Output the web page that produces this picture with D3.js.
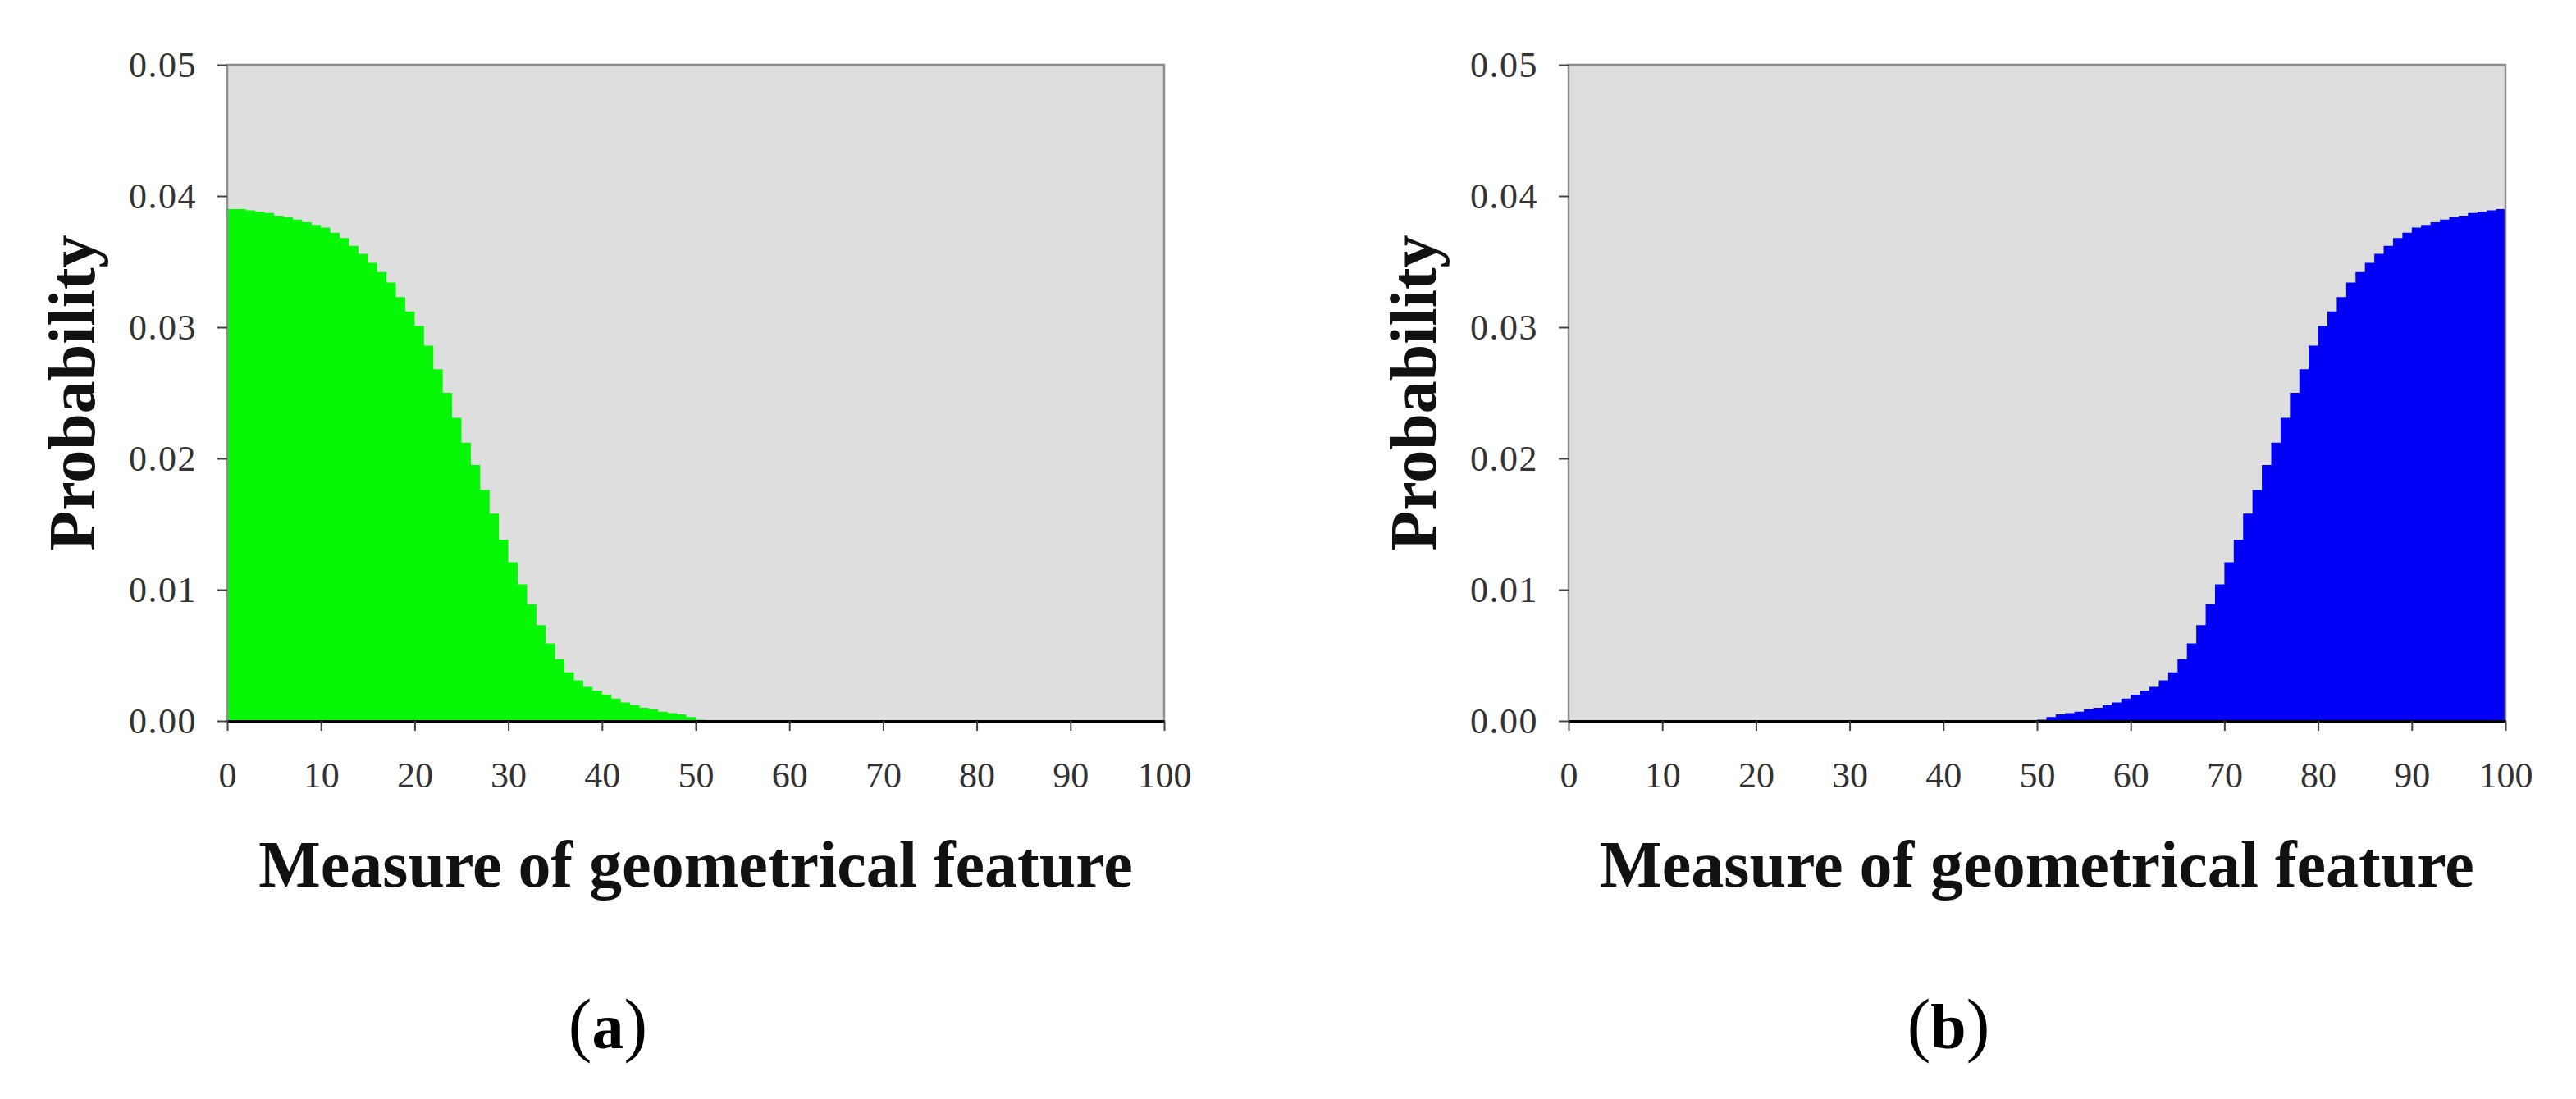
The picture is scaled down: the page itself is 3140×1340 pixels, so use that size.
<!DOCTYPE html>
<html><head><meta charset="utf-8">
<script src="https://cdn.jsdelivr.net/npm/d3@7"></script>
<style>body{margin:0;background:#fff}</style>
</head><body>
<svg id="c" width="3140" height="1340"></svg>
<script>
// ---- data ----
const binStarts = d3.range(0, 100, 1); // 100 bins of width 1 on the measure axis
const greenProb = [
  0.0390,0.0390,0.0389,0.0388,0.0387,0.0385,0.0384,0.0382,0.0380,0.0378,
  0.0376,0.0372,0.0368,0.0362,0.0356,0.0349,0.0342,0.0334,0.0323,0.0312,
  0.0301,0.0286,0.0268,0.0250,0.0231,0.0212,0.0195,0.0176,0.0158,0.0138,
  0.0121,0.0104,0.0089,0.0073,0.0059,0.0047,0.0037,0.0031,0.0026,0.0023,
  0.0020,0.0017,0.0014,0.0012,0.0010,0.0009,0.0007,0.0006,0.0005,0.0003,
  0.0001,0,0,0,0,0,0,0,0,0,
  0,0,0,0,0,0,0,0,0,0,
  0,0,0,0,0,0,0,0,0,0,
  0,0,0,0,0,0,0,0,0,0,
  0,0,0,0,0,0,0,0,0,0
];
const blueProb = [
  0,0,0,0,0,0,0,0,0,0,
  0,0,0,0,0,0,0,0,0,0,
  0,0,0,0,0,0,0,0,0,0,
  0,0,0,0,0,0,0,0,0,0,
  0,0,0,0,0,0,0,0,0,0,
  0.0001,0.0003,0.0005,0.0006,0.0007,0.0009,0.0010,0.0012,0.0014,0.0017,
  0.0020,0.0023,0.0026,0.0031,0.0037,0.0047,0.0059,0.0073,0.0089,0.0104,
  0.0121,0.0138,0.0158,0.0176,0.0195,0.0212,0.0231,0.0250,0.0268,0.0286,
  0.0301,0.0312,0.0323,0.0334,0.0342,0.0349,0.0356,0.0362,0.0368,0.0372,
  0.0376,0.0378,0.0380,0.0382,0.0384,0.0385,0.0387,0.0388,0.0389,0.0390
];
const xTickValues = [0,10,20,30,40,50,60,70,80,90,100];
const yTickValues = [0,0.01,0.02,0.03,0.04,0.05];
const xTitle = "Measure of geometrical feature";
const yTitle = "Probability";
const panelLabels = ["a","b"];

// ---- drawing ----
const svg = d3.select("#c");
svg.append("rect").attr("width",3140).attr("height",1340).attr("fill","#ffffff");

const W = 1142, TOP = 79, BOTTOM = 879;
const panels = [
  {left:277,  values:greenProb, color:"#06f806", label:panelLabels[0], labelX:741},
  {left:1912, values:blueProb,  color:"#0000f6", label:panelLabels[1], labelX:2375}
];
const serif = "'Liberation Serif','Times New Roman',serif";

panels.forEach(p => {
  const g = svg.append("g");
  const x = d3.scaleLinear().domain([0,100]).range([p.left, p.left+W]);
  const y = d3.scaleLinear().domain([0,0.05]).range([BOTTOM, TOP]);

  // plot background
  g.append("rect").attr("x",x(0)).attr("y",y(0.05))
    .attr("width",x(100)-x(0)).attr("height",y(0)-y(0.05)).attr("fill","#dedede");

  // histogram as stepped area
  const pts = binStarts.map((b,i)=>[b,p.values[i]]);
  pts.push([100,p.values[p.values.length-1]]);
  const area = d3.area().x(d=>x(d[0])).y0(y(0)).y1(d=>y(d[1])).curve(d3.curveStepAfter);
  g.append("path").datum(pts).attr("d",area).attr("fill",p.color);

  // gray frame (top, right, left)
  g.append("path")
    .attr("d",`M${x(0)},${y(0)}V${y(0.05)}H${x(100)}V${y(0)}`)
    .attr("fill","none").attr("stroke","#8e8e8e").attr("stroke-width",2.5);

  // y axis
  const ya = g.append("g").attr("transform",`translate(${x(0)},0)`)
    .call(d3.axisLeft(y).tickValues(yTickValues).tickFormat(d3.format(".2f"))
      .tickSize(12).tickSizeOuter(0).tickPadding(25));
  ya.select(".domain").remove();
  ya.selectAll(".tick line").attr("stroke","#444").attr("stroke-width",2);
  ya.selectAll(".tick text").attr("font-family",serif).attr("font-size",44)
    .attr("letter-spacing","1.5px").attr("fill","#333");

  // x axis
  const xa = g.append("g").attr("transform",`translate(0,${y(0)})`)
    .call(d3.axisBottom(x).tickValues(xTickValues).tickFormat(d3.format("d"))
      .tickSize(12).tickSizeOuter(0).tickPadding(38));
  xa.select(".domain").attr("stroke","#000").attr("stroke-width",3);
  xa.selectAll(".tick line").attr("stroke","#444").attr("stroke-width",2);
  xa.selectAll(".tick text").attr("font-family",serif).attr("font-size",44).attr("fill","#333");

  // titles
  g.append("text").attr("x",(x(0)+x(100))/2).attr("y",1081)
    .attr("text-anchor","middle").attr("font-family",serif).attr("font-weight","bold")
    .attr("font-size",80).attr("fill","#111").text(xTitle);
  g.append("text").attr("transform",`translate(${x(0)-162},${(y(0)+y(0.05))/2}) rotate(-90)`)
    .attr("text-anchor","middle").attr("font-family",serif).attr("font-weight","bold")
    .attr("font-size",80).attr("fill","#111").text(yTitle);

  // panel label
  const t = svg.append("text").attr("x",p.labelX).attr("y",1278)
    .attr("text-anchor","middle").attr("font-family",serif).attr("font-size",86).attr("fill","#000");
  t.append("tspan").text("(");
  t.append("tspan").attr("font-weight","bold").attr("font-size",78).text(p.label);
  t.append("tspan").text(")");
});
</script>
</body></html>
